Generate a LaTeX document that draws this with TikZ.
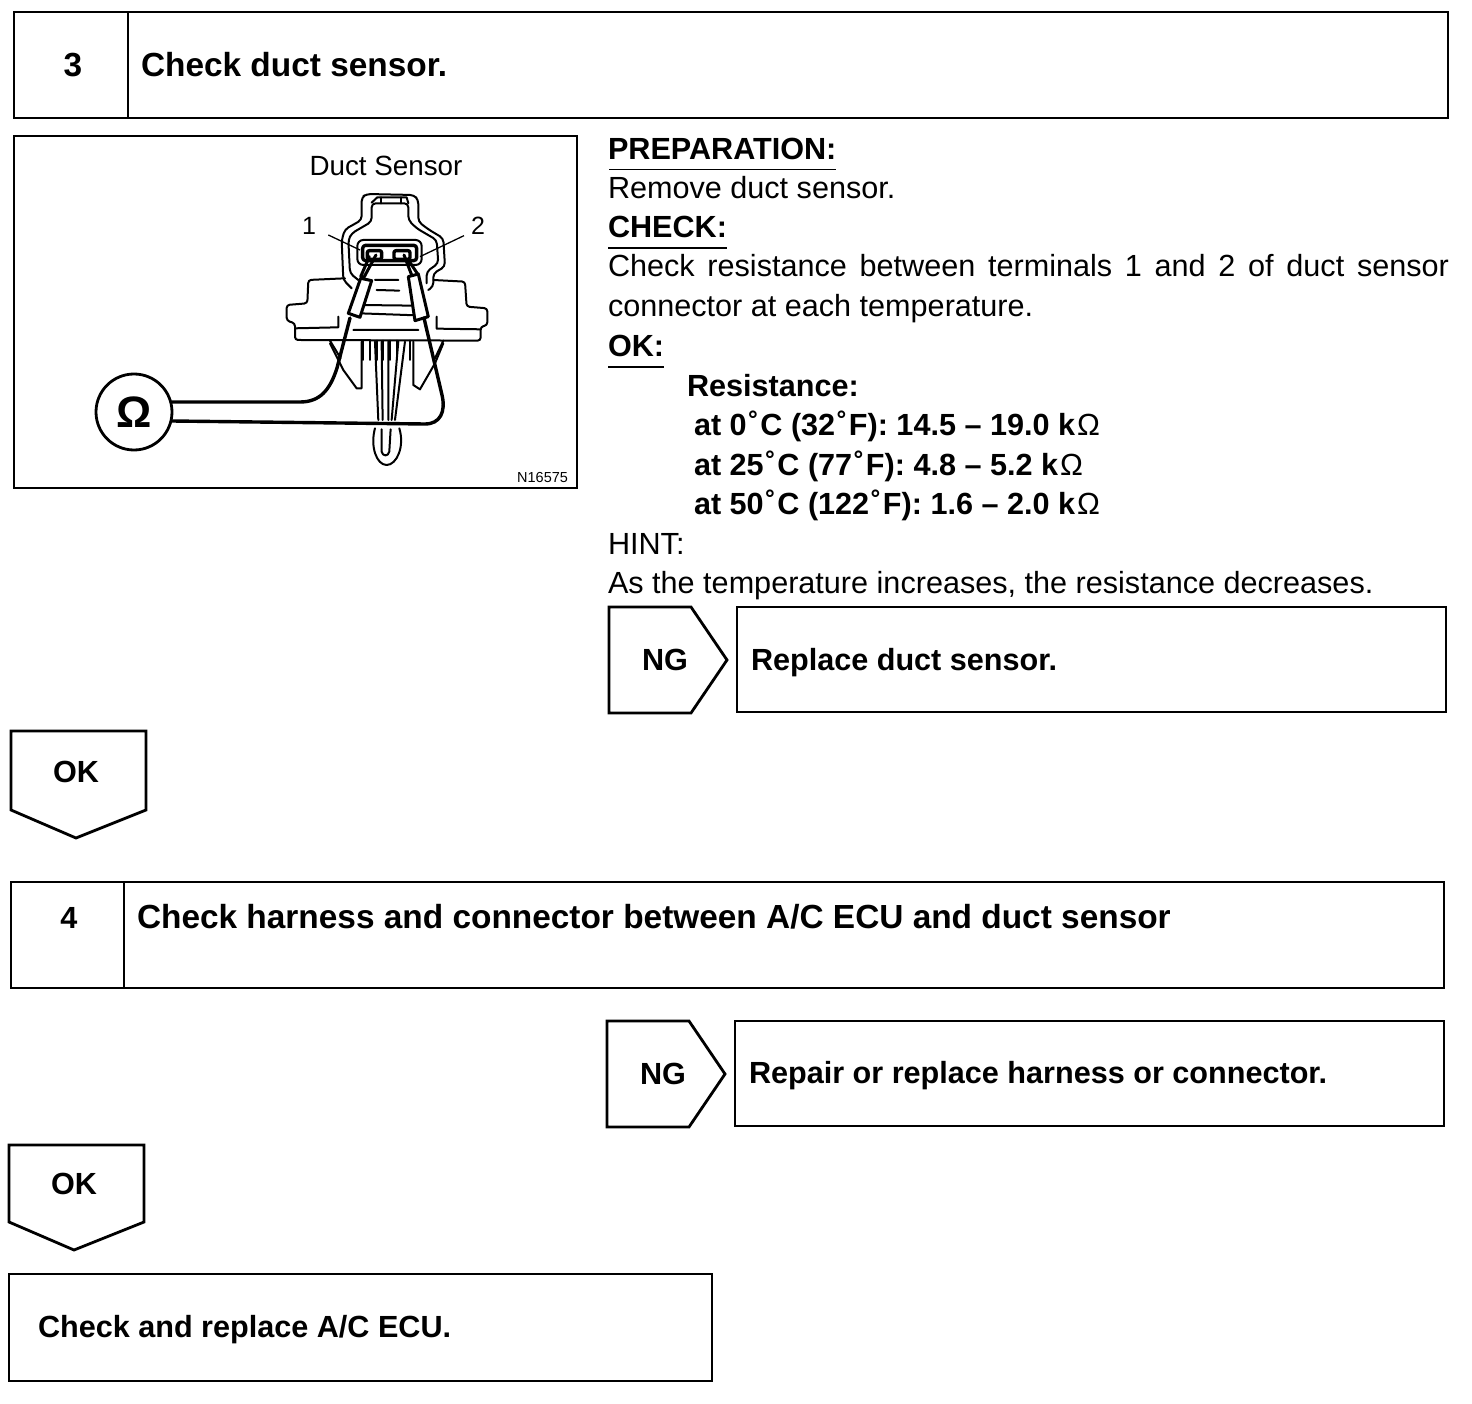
\documentclass[tikz,border=0pt]{standalone}
\usepackage{fontspec}
\setmainfont{Liberation Sans}
\newcommand{\bodyfs}{\fontsize{30.6}{34}\selectfont}
\newcommand{\headfs}{\fontsize{33.4}{36}\selectfont\bfseries}
\newcommand{\thinohm}{{\normalfont\kern2pt Ω}}
\newcommand{\dg}{\kern2pt˚\kern1.5pt}
\tikzset{
  every node/.style={inner sep=0pt,outer sep=0pt},
  frame/.style={draw=black,line width=2.8pt,line join=miter},
  ink/.style={draw=black,line width=2pt,line join=round,line cap=round},
  wire/.style={draw=black,line width=3.4pt,line join=round,line cap=round},
  probe/.style={draw=black,line width=3pt,line join=round,line cap=round},
  thinline/.style={draw=black,line width=1.3pt},
  rule/.style={draw=black,line width=1.2pt},
  head/.style={anchor=base west,font=\headfs},
  headc/.style={anchor=base,font=\headfs},
  body/.style={anchor=base west,font=\bodyfs},
  bold/.style={anchor=base west,font=\bodyfs\bfseries},
  small/.style={anchor=base,font=\fontsize{27.8}{30}\selectfont},
}
\begin{document}
\begin{tikzpicture}[x=1pt,y=-1pt]
\useasboundingbox (0,0) rectangle (1472,1404);
\fill[white] (0,0) rectangle (1472,1404);
% ---- step 3 header
\draw[frame] (14,12) rectangle (1448,118);
\draw[frame] (128,12) -- (128,118);
\node[headc] (n3) at (73,77) {3};
\node[head] (t3) at (141,77) {Check duct sensor.};
% ---- illustration
\draw[frame] (14,136) rectangle (577,488);
\node[small] (title) at (386,176) {Duct Sensor};
\node[small] (lab1) at (309,235) {\fontsize{25}{30}\selectfont 1};
\node[small] (lab2) at (478,235) {\fontsize{25}{30}\selectfont 2};
\node[anchor=base east,font=\fontsize{14.5}{18}\selectfont] (code) at (568,482) {N16575};
\begin{scope}[shift={(270pt,-140pt)},x=0.3333pt,y=-0.3333pt]
  % connector shell
  \draw[ink,rounded corners=4pt] (245,445) -- (220,420) -- (215,300) -- (225,268) -- (275,240) -- (275,172) -- (290,162) -- (432,165) -- (445,180) -- (445,245) -- (475,268) -- (520,295) -- (525,380) -- (490,400) -- (490,440) -- (475,450);
  \draw[ink,rounded corners=4pt] (265,420) -- (240,400) -- (235,300) -- (245,280) -- (305,245) -- (305,190) -- (415,190) -- (415,240) -- (440,265) -- (500,300) -- (505,370) -- (470,395) -- (470,430);
  \draw[ink] (305,188) -- (322,172) -- (410,172) -- (415,190);
  \draw[ink] (332,172) -- (332,190) (392,172) -- (392,190);
  % socket
  \draw[ink,rounded corners=6pt] (262,300) rectangle (455,375);
  \draw[wire,rounded corners=3pt] (278,316) -- (440,316) -- (440,362) -- (278,362) -- cycle;
  \draw[wire,rounded corners=2pt] (292,332) rectangle (335,358);
  \draw[wire,rounded corners=2pt] (372,332) rectangle (420,358);
  % body
  \draw[ink,rounded corners=3pt] (225,415) -- (115,420) -- (112,490) -- (50,495) -- (50,542) -- (75,550) -- (75,600) -- (632,602) -- (632,560) -- (652,556) -- (652,505) -- (590,500) -- (585,425) -- (490,420);
  \draw[ink] (205,530) -- (205,562) -- (75,565);
  \draw[ink] (500,530) -- (500,566) -- (632,568);
  \draw[ink] (315,420) -- (385,420) (320,450) -- (388,452) (270,495) -- (432,497) (268,520) -- (438,526) (250,570) -- (445,570);
  % legs
  \draw[ink] (180,602) -- (212,655);
  \draw[ink] (520,602) -- (495,655);
  \draw[ink] (278,602) -- (278,660) (300,602) -- (300,660) (320,602) -- (320,660) (340,602) -- (340,660) (360,602) -- (360,660) (380,602) -- (380,660) (420,602) -- (420,660);
  % probes
  \draw[probe,fill=white] (272,415) -- (305,422) -- (270,532) -- (235,520) -- cycle;
  \draw[probe,fill=white] (415,410) -- (445,402) -- (475,530) -- (435,542) -- cycle;
  \draw[probe] (318,345) -- (282,412) (298,350) -- (272,410);
  \draw[probe] (402,345) -- (425,405) (415,360) -- (445,405);
  % leaders
  \draw[thinline] (175,285) -- (270,330);
  \draw[thinline] (582,287) -- (450,350);
\end{scope}
\begin{scope}[shift={(80pt,-330pt)},x=0.3333pt,y=-0.3333pt]
  \draw[ink] (750,40) -- (790,120) -- (830,175) -- (845,175) -- (845,35);
  \draw[ink] (1090,40) -- (1065,100) -- (1020,178) -- (1000,165) -- (1000,35);
  \draw[ink] (885,35) -- (895,270) (905,35) -- (908,270) (925,35) -- (925,270) (975,35) -- (945,270) (955,35) -- (935,270);
  \draw[ink] (885,295) .. controls (870,350) and (890,405) .. (920,405) .. controls (950,405) and (975,350) .. (958,295);
  \draw[ink] (905,298) -- (905,365) .. controls (908,380) and (925,380) .. (928,365) -- (932,298);
\end{scope}
% ---- ohmmeter
\node[draw=black,line width=2.8pt,circle,minimum size=76pt,font=\fontsize{44}{50}\selectfont\bfseries] (ohm) at (134,412) {Ω};
\coordinate (pl) at (350,318);
\coordinate (pr) at (424,318);
\draw[wire] (pl) -- (337,368) .. controls (330,390) and (320,402) .. (300,402) -- (ohm.east |- 0,402);
\draw[wire] (pr) -- (442,395) .. controls (446,412) and (440,424) .. (425,424) -- (ohm.east |- 0,421);
% ---- text column
\node[bold] (prep) at (608,160) {PREPARATION:};
\draw[rule] (609,169.5) -- (836,169.5);
\node[body] (rem) at (608,199) {Remove duct sensor.};
\node[bold] (chk) at (608,238) {CHECK:};
\draw[rule] (608,248) -- (727,248);
\node[body] (l1) at (608,277) {\makebox[841pt][s]{Check resistance between terminals 1 and 2 of duct sensor}};
\node[body] (l2) at (608,317) {connector at each temperature.};
\node[bold] (okl) at (608,356) {OK:};
\draw[rule] (608,367) -- (664,367);
\node[bold] (res) at (687,396) {Resistance:};
\node[bold] (r0) at (694,435) {at 0\dg C (32\dg F): 14.5 – 19.0 k\thinohm};
\node[bold] (r1) at (694,475) {at 25\dg C (77\dg F): 4.8 – 5.2 k\thinohm};
\node[bold] (r2) at (694,514) {at 50\dg C (122\dg F): 1.6 – 2.0 k\thinohm};
\node[body] (hint) at (608,554) {HINT:};
\node[body] (as) at (608,593) {As the temperature increases, the resistance decreases.};
% ---- NG 1
\draw[frame] (609,607) -- (691,607) -- (727,660) -- (691,713) -- (609,713) -- cycle;
\node[bold,anchor=base] (ng1) at (665,670) {NG};
\draw[frame] (737,607) rectangle (1446,712);
\node[bold] (rep1) at (751,670) {Replace duct sensor.};
% ---- OK 1
\draw[frame] (11,731) -- (146,731) -- (146,810) -- (76,838) -- (11,810) -- cycle;
\node[bold,anchor=base] (ok1) at (76,782) {OK};
% ---- step 4 header
\draw[frame] (11,882) rectangle (1444,988);
\draw[frame] (124,882) -- (124,988);
\node[bold,anchor=base] (n4) at (69,928) {4};
\node[bold] (t4) at (137,928) {\fontsize{33.4}{36}\selectfont Check harness and connector between A/C ECU and duct sensor};
% ---- NG 2
\draw[frame] (607,1021) -- (689,1021) -- (725,1074) -- (689,1127) -- (607,1127) -- cycle;
\node[bold,anchor=base] (ng2) at (663,1084) {NG};
\draw[frame] (735,1021) rectangle (1444,1126);
\node[bold] (rep2) at (749,1083) {Repair or replace harness or connector.};
% ---- OK 2
\draw[frame] (9,1145) -- (144,1145) -- (144,1222) -- (74,1250) -- (9,1222) -- cycle;
\node[bold,anchor=base] (ok2) at (74,1194) {OK};
% ---- final
\draw[frame] (9,1274) rectangle (712,1381);
\node[bold] (fin) at (38,1337) {Check and replace A/C ECU.};
\end{tikzpicture}
\end{document}
